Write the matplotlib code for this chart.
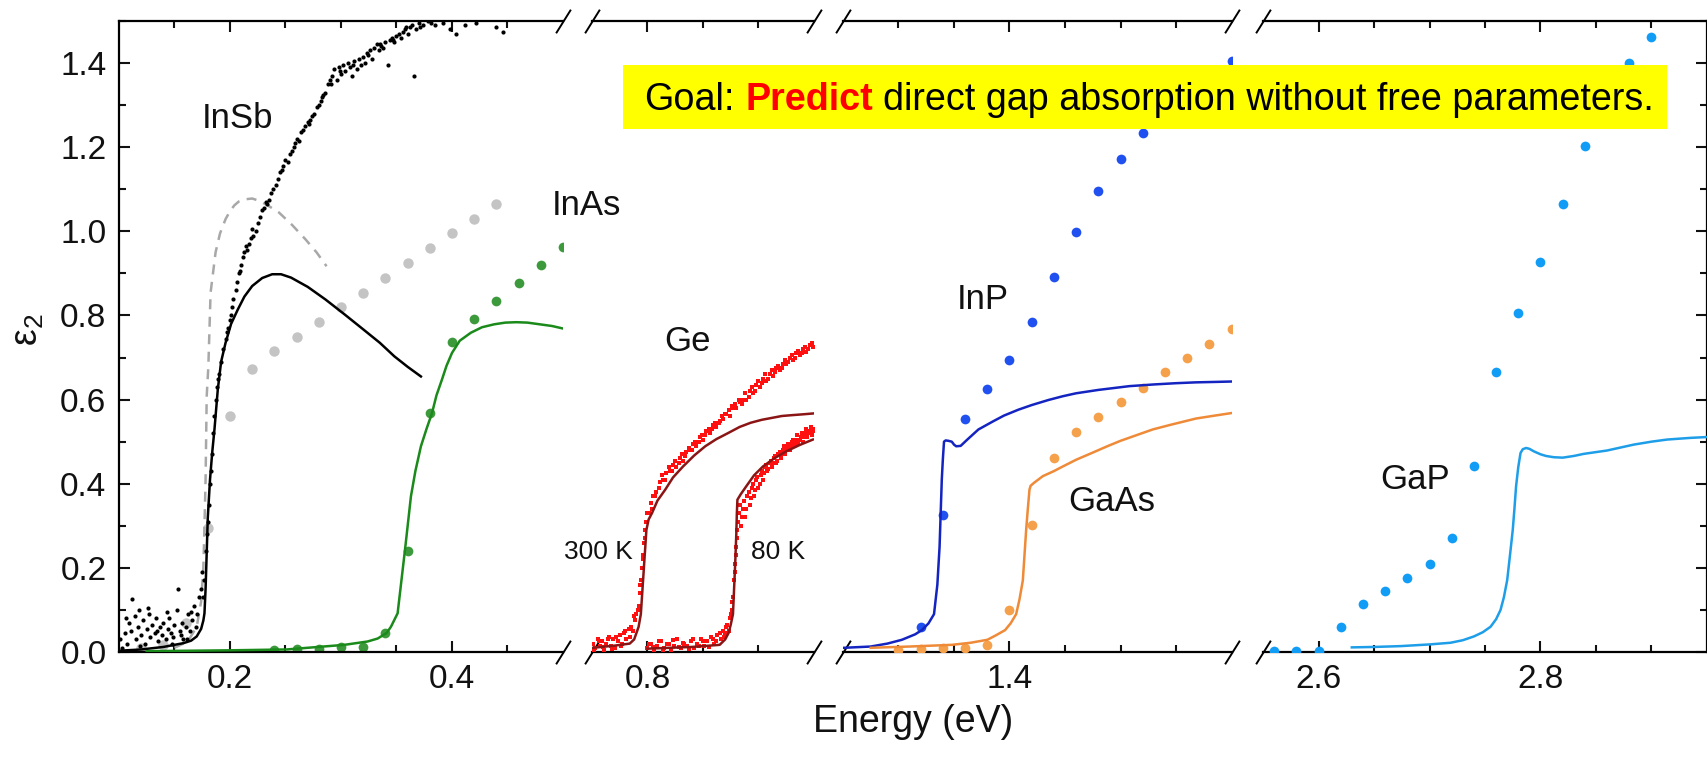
import numpy as np
import matplotlib
matplotlib.use('Agg')
import matplotlib.pyplot as plt
from matplotlib.patches import Rectangle

plt.rcParams['font.family'] = ['Liberation Sans', 'DejaVu Sans']
plt.rcParams['mathtext.fontset'] = 'custom'
plt.rcParams['mathtext.rm'] = 'Liberation Sans'
plt.rcParams['mathtext.it'] = 'Liberation Sans:italic'

# ---------------- data ----------------
# InSb experiment (black points), (energy, eps2)
insb_exp = [(0.101, 0.030), (0.103, 0.010), (0.105, 0.045), (0.107, 0.020), (0.109, 0.070),
            (0.111, 0.050), (0.112, 0.125), (0.114, 0.085), (0.115, 0.030), (0.117, 0.060),
            (0.118, 0.100), (0.120, 0.040), (0.122, 0.075), (0.123, 0.020), (0.125, 0.055),
            (0.127, 0.090), (0.128, 0.035), (0.130, 0.065), (0.132, 0.045), (0.133, 0.080),
            (0.135, 0.025), (0.137, 0.060), (0.139, 0.040), (0.140, 0.070), (0.142, 0.030),
            (0.144, 0.055), (0.145, 0.080), (0.147, 0.045), (0.149, 0.035), (0.150, 0.065),
            (0.152, 0.100), (0.153, 0.150), (0.155, 0.050), (0.157, 0.070), (0.158, 0.030),
            (0.160, 0.060), (0.162, 0.090), (0.164, 0.050), (0.166, 0.075), (0.168, 0.110),
            (0.170, 0.090), (0.172, 0.130), (0.174, 0.150), (0.175, 0.190), (0.176, 0.130),
            (0.177, 0.170), (0.178, 0.240), (0.179, 0.280), (0.180, 0.310), (0.181, 0.350),
            (0.182, 0.400), (0.183, 0.430), (0.184, 0.470), (0.185, 0.520), (0.186, 0.560),
            (0.187, 0.600), (0.188, 0.630), (0.190, 0.660), (0.192, 0.690), (0.194, 0.720),
            (0.196, 0.745), (0.198, 0.770), (0.200, 0.790), (0.202, 0.820), (0.203, 0.840),
            (0.205, 0.860), (0.206, 0.880), (0.208, 0.900), (0.210, 0.920), (0.212, 0.940),
            (0.213, 0.950), (0.215, 0.955), (0.217, 0.970), (0.219, 0.985), (0.221, 0.990),
            (0.223, 1.000), (0.225, 1.020), (0.227, 1.035), (0.229, 1.050), (0.231, 1.055),
            (0.233, 1.065), (0.235, 1.075), (0.237, 1.090), (0.239, 1.100), (0.241, 1.110),
            (0.243, 1.125), (0.245, 1.140), (0.248, 1.155), (0.250, 1.170), (0.252, 1.165),
            (0.254, 1.185), (0.256, 1.190), (0.258, 1.200), (0.260, 1.220), (0.262, 1.215),
            (0.264, 1.235), (0.266, 1.240), (0.268, 1.250), (0.270, 1.260), (0.272, 1.265),
            (0.274, 1.275), (0.276, 1.280), (0.278, 1.295), (0.280, 1.300), (0.282, 1.310),
            (0.284, 1.325), (0.286, 1.330), (0.288, 1.350), (0.290, 1.360), (0.292, 1.370),
            (0.294, 1.385), (0.296, 1.360), (0.298, 1.390), (0.300, 1.375), (0.302, 1.395),
            (0.304, 1.380), (0.306, 1.400), (0.308, 1.390), (0.310, 1.370), (0.312, 1.405),
            (0.314, 1.385), (0.316, 1.410), (0.318, 1.395), (0.320, 1.415), (0.322, 1.400),
            (0.324, 1.420), (0.326, 1.430), (0.328, 1.410), (0.330, 1.435), (0.332, 1.445),
            (0.334, 1.430), (0.336, 1.440), (0.338, 1.435), (0.340, 1.450), (0.342, 1.395),
            (0.344, 1.455), (0.346, 1.460), (0.348, 1.450), (0.350, 1.465), (0.352, 1.470),
            (0.354, 1.460), (0.356, 1.475), (0.358, 1.480), (0.360, 1.470), (0.362, 1.485),
            (0.364, 1.490), (0.366, 1.370), (0.368, 1.480), (0.370, 1.495), (0.374, 1.490),
            (0.378, 1.500), (0.385, 1.490), (0.392, 1.495), (0.398, 1.480), (0.404, 1.470),
            (0.412, 1.490), (0.422, 1.495), (0.440, 1.485), (0.446, 1.475),
            (0.106, 0.080), (0.119, 0.015), (0.126, 0.105), (0.134, 0.050), (0.143, 0.095),
            (0.148, 0.020), (0.156, 0.040), (0.161, 0.030), (0.165, 0.095), (0.169, 0.060),
            (0.189, 0.650), (0.197, 0.760), (0.201, 0.800), (0.209, 0.905), (0.214, 0.965),
            (0.220, 1.005), (0.232, 1.070), (0.247, 1.145), (0.259, 1.210), (0.271, 1.255),
            (0.283, 1.320), (0.291, 1.350), (0.299, 1.380), (0.311, 1.395), (0.323, 1.425),
            (0.335, 1.445), (0.347, 1.455), (0.359, 1.485), (0.371, 1.485), (0.381, 1.495)]

# InSb theory (solid black) and second theory (dashed grey)
insb_th_e = [0.100, 0.120, 0.140, 0.158, 0.165, 0.170, 0.174, 0.176, 0.177, 0.178,
             0.179, 0.180, 0.182, 0.184, 0.186, 0.189, 0.192, 0.196, 0.201, 0.207,
             0.213, 0.220, 0.229, 0.238, 0.246, 0.255, 0.270, 0.286, 0.303, 0.320,
             0.335, 0.348, 0.360, 0.372]
insb_th_v = [0.003, 0.006, 0.012, 0.021, 0.027, 0.037, 0.055, 0.075, 0.092, 0.150,
             0.235, 0.320, 0.410, 0.475, 0.529, 0.624, 0.690, 0.735, 0.780, 0.814,
             0.845, 0.870, 0.889, 0.898, 0.898, 0.890, 0.868, 0.838, 0.803, 0.767,
             0.735, 0.703, 0.678, 0.655]
insb_da_e = [0.150, 0.162, 0.170, 0.174, 0.176, 0.177, 0.178, 0.179, 0.1805, 0.1825,
             0.187, 0.191, 0.196, 0.200, 0.204, 0.208, 0.213, 0.220, 0.227, 0.235,
             0.244, 0.256, 0.268, 0.278, 0.287]
insb_da_v = [0.010, 0.025, 0.060, 0.120, 0.200, 0.300, 0.410, 0.607, 0.679, 0.854,
             0.950, 0.995, 1.029, 1.048, 1.062, 1.071, 1.076, 1.078, 1.072, 1.060,
             1.045, 1.015, 0.981, 0.950, 0.917]
# grey circles
grey_e = [0.12, 0.14, 0.16, 0.18, 0.20, 0.22, 0.24, 0.26, 0.28, 0.30, 0.32, 0.34,
          0.36, 0.38, 0.40, 0.42, 0.44]
grey_v = [0.010, 0.017, 0.070, 0.295, 0.562, 0.673, 0.715, 0.749, 0.784, 0.820,
          0.854, 0.890, 0.924, 0.961, 0.995, 1.030, 1.066]

# InAs
inas_th_e = [0.125, 0.200, 0.251, 0.303, 0.324, 0.333, 0.341, 0.345, 0.351, 0.354,
             0.358, 0.363, 0.367, 0.372, 0.377, 0.382, 0.386, 0.391, 0.395, 0.400,
             0.407, 0.417, 0.427, 0.438, 0.448, 0.458, 0.468, 0.479, 0.490, 0.500]
inas_th_v = [0.002, 0.004, 0.006, 0.017, 0.025, 0.032, 0.045, 0.060, 0.092, 0.160,
             0.251, 0.370, 0.430, 0.489, 0.530, 0.568, 0.610, 0.648, 0.680, 0.711,
             0.740, 0.759, 0.772, 0.779, 0.783, 0.784, 0.783, 0.779, 0.775, 0.769]
inas_e = [0.24, 0.26, 0.28, 0.30, 0.32, 0.34, 0.36, 0.38, 0.40, 0.42, 0.44, 0.46,
          0.48, 0.50]
inas_v = [0.004, 0.006, 0.008, 0.012, 0.012, 0.045, 0.240, 0.568, 0.736, 0.792,
          0.835, 0.878, 0.921, 0.963]

# Ge 300 K and 80 K experiment, (energy, eps2)
ge300_pts = [(0.751, 0.020), (0.753, 0.010), (0.755, 0.030), (0.757, 0.015), (0.759, 0.025),
             (0.761, 0.005), (0.763, 0.020), (0.765, 0.035), (0.767, 0.015), (0.769, 0.030),
             (0.771, 0.010), (0.773, 0.025), (0.775, 0.040), (0.777, 0.020), (0.779, 0.045),
             (0.781, 0.030), (0.783, 0.055), (0.785, 0.060), (0.787, 0.050), (0.789, 0.075),
             (0.790, 0.090), (0.792, 0.110), (0.793, 0.140), (0.794, 0.170), (0.795, 0.200),
             (0.796, 0.230), (0.797, 0.260), (0.798, 0.290), (0.799, 0.310), (0.801, 0.330),
             (0.803, 0.355), (0.805, 0.370), (0.808, 0.380), (0.811, 0.405), (0.814, 0.410),
             (0.817, 0.425), (0.820, 0.430), (0.823, 0.445), (0.826, 0.440), (0.829, 0.460),
             (0.832, 0.455), (0.835, 0.475), (0.838, 0.480), (0.841, 0.495), (0.844, 0.490),
             (0.847, 0.510), (0.850, 0.505), (0.853, 0.525), (0.856, 0.520), (0.859, 0.540),
             (0.862, 0.535), (0.865, 0.550), (0.868, 0.555), (0.871, 0.565), (0.874, 0.560),
             (0.877, 0.580), (0.880, 0.580), (0.883, 0.595), (0.886, 0.600), (0.889, 0.600),
             (0.892, 0.620), (0.895, 0.615), (0.898, 0.635), (0.901, 0.630), (0.904, 0.650),
             (0.907, 0.645), (0.910, 0.660), (0.913, 0.655), (0.916, 0.675), (0.919, 0.670),
             (0.922, 0.685), (0.925, 0.685), (0.928, 0.700), (0.931, 0.695), (0.934, 0.710),
             (0.937, 0.705), (0.940, 0.720), (0.943, 0.712), (0.946, 0.730), (0.949, 0.725),
             (0.752, 0.005), (0.756, 0.025), (0.760, 0.012), (0.764, 0.030), (0.768, 0.008),
             (0.772, 0.035), (0.776, 0.015), (0.780, 0.050), (0.784, 0.035), (0.788, 0.085),
             (0.791, 0.100), (0.7935, 0.160), (0.7955, 0.220), (0.7975, 0.270), (0.800, 0.330),
             (0.804, 0.340), (0.807, 0.370), (0.810, 0.390), (0.813, 0.420), (0.816, 0.410),
             (0.819, 0.440), (0.822, 0.430), (0.825, 0.455), (0.828, 0.450), (0.831, 0.470),
             (0.834, 0.465), (0.837, 0.485), (0.840, 0.480), (0.843, 0.500), (0.846, 0.500),
             (0.849, 0.515), (0.852, 0.515), (0.855, 0.530), (0.858, 0.530), (0.861, 0.545),
             (0.864, 0.545), (0.867, 0.560), (0.870, 0.565), (0.873, 0.575), (0.876, 0.585),
             (0.879, 0.590), (0.882, 0.600), (0.885, 0.590), (0.888, 0.615), (0.891, 0.605),
             (0.894, 0.630), (0.897, 0.620), (0.900, 0.645), (0.903, 0.640), (0.906, 0.660),
             (0.909, 0.650), (0.912, 0.670), (0.915, 0.665), (0.918, 0.680), (0.921, 0.675),
             (0.924, 0.695), (0.927, 0.690), (0.930, 0.705), (0.933, 0.700), (0.936, 0.715),
             (0.939, 0.710), (0.942, 0.725), (0.945, 0.720), (0.948, 0.735)]
ge80_pts = [(0.800, 0.010), (0.803, 0.020), (0.806, 0.005), (0.809, 0.015), (0.812, 0.025),
            (0.815, 0.010), (0.818, 0.020), (0.821, 0.005), (0.824, 0.015), (0.827, 0.030),
            (0.830, 0.010), (0.833, 0.020), (0.836, 0.015), (0.839, 0.025), (0.842, 0.010),
            (0.845, 0.020), (0.848, 0.030), (0.851, 0.015), (0.854, 0.025), (0.857, 0.035),
            (0.860, 0.020), (0.863, 0.040), (0.866, 0.030), (0.868, 0.050), (0.870, 0.045),
            (0.872, 0.065), (0.874, 0.080), (0.876, 0.100), (0.877, 0.130), (0.878, 0.170),
            (0.879, 0.210), (0.880, 0.250), (0.881, 0.290), (0.882, 0.330), (0.884, 0.300),
            (0.886, 0.340), (0.888, 0.320), (0.890, 0.370), (0.892, 0.350), (0.894, 0.390),
            (0.896, 0.370), (0.898, 0.410), (0.900, 0.390), (0.902, 0.420), (0.904, 0.410),
            (0.906, 0.440), (0.908, 0.430), (0.910, 0.450), (0.912, 0.440), (0.914, 0.460),
            (0.916, 0.450), (0.918, 0.470), (0.920, 0.460), (0.922, 0.480), (0.924, 0.470),
            (0.926, 0.485), (0.928, 0.480), (0.930, 0.500), (0.932, 0.490), (0.934, 0.505),
            (0.936, 0.495), (0.938, 0.510), (0.940, 0.500), (0.942, 0.520), (0.944, 0.510),
            (0.946, 0.525), (0.948, 0.515), (0.950, 0.530),
            (0.801, 0.020), (0.805, 0.012), (0.810, 0.025), (0.814, 0.005), (0.819, 0.018),
            (0.823, 0.028), (0.828, 0.012), (0.832, 0.022), (0.837, 0.008), (0.841, 0.030),
            (0.846, 0.015), (0.850, 0.025), (0.855, 0.012), (0.859, 0.030), (0.862, 0.025),
            (0.865, 0.045), (0.869, 0.035), (0.871, 0.060), (0.873, 0.050), (0.875, 0.090),
            (0.8765, 0.120), (0.8785, 0.190), (0.8795, 0.230), (0.8805, 0.270), (0.8815, 0.310),
            (0.883, 0.350), (0.885, 0.320), (0.887, 0.360), (0.889, 0.340), (0.891, 0.380),
            (0.893, 0.365), (0.895, 0.400), (0.897, 0.385), (0.899, 0.415), (0.901, 0.400),
            (0.903, 0.430), (0.905, 0.425), (0.907, 0.445), (0.909, 0.435), (0.911, 0.455),
            (0.913, 0.450), (0.915, 0.465), (0.917, 0.455), (0.919, 0.475), (0.921, 0.470),
            (0.923, 0.490), (0.925, 0.480), (0.927, 0.495), (0.929, 0.490), (0.931, 0.505),
            (0.933, 0.500), (0.935, 0.515), (0.937, 0.505), (0.939, 0.520), (0.941, 0.510),
            (0.943, 0.530), (0.945, 0.520), (0.947, 0.535), (0.949, 0.525)]
ge300_th_e = [0.751, 0.770, 0.784, 0.788, 0.790, 0.792, 0.794, 0.7955, 0.797, 0.798,
              0.799, 0.801, 0.804, 0.809, 0.816, 0.823, 0.832, 0.842, 0.852, 0.862,
              0.873, 0.883, 0.893, 0.903, 0.913, 0.921, 0.930, 0.940, 0.949]
ge300_th_v = [0.010, 0.015, 0.020, 0.030, 0.045, 0.060, 0.090, 0.150, 0.210, 0.250,
              0.290, 0.315, 0.330, 0.360, 0.386, 0.415, 0.441, 0.467, 0.489, 0.506,
              0.521, 0.535, 0.545, 0.552, 0.557, 0.561, 0.563, 0.565, 0.567]
ge80_th_e = [0.800, 0.840, 0.865, 0.870, 0.873, 0.875, 0.877, 0.878, 0.879, 0.880,
             0.8805, 0.881, 0.884, 0.889, 0.896, 0.904, 0.914, 0.925, 0.937, 0.949]
ge80_th_v = [0.008, 0.012, 0.017, 0.030, 0.045, 0.065, 0.090, 0.150, 0.210, 0.280,
             0.330, 0.362, 0.375, 0.394, 0.420, 0.441, 0.460, 0.477, 0.492, 0.505]

# InP
inp_th_e = [1.251, 1.275, 1.290, 1.303, 1.315, 1.321, 1.327, 1.332, 1.335, 1.337,
            1.338, 1.339, 1.340, 1.341, 1.3425, 1.345, 1.348, 1.350, 1.352, 1.356,
            1.362, 1.372, 1.385, 1.395, 1.408, 1.420, 1.435, 1.448, 1.460, 1.480,
            1.508, 1.530, 1.550, 1.568, 1.585, 1.600]
inp_th_v = [0.010, 0.013, 0.020, 0.029, 0.042, 0.052, 0.068, 0.090, 0.160, 0.250,
            0.330, 0.410, 0.460, 0.500, 0.503, 0.502, 0.500, 0.493, 0.489, 0.490,
            0.505, 0.529, 0.548, 0.562, 0.576, 0.587, 0.599, 0.608, 0.615, 0.623,
            0.632, 0.636, 0.639, 0.641, 0.642, 0.643]
inp_e = [1.32, 1.34, 1.36, 1.38, 1.40, 1.42, 1.44, 1.46, 1.48, 1.50, 1.52, 1.54,
         1.56, 1.58, 1.60]
inp_v = [0.060, 0.326, 0.555, 0.626, 0.693, 0.784, 0.891, 0.999, 1.097, 1.173,
         1.233, 1.280, 1.325, 1.365, 1.405]

# GaAs
gaas_th_e = [1.275, 1.310, 1.348, 1.365, 1.380, 1.388, 1.396, 1.401, 1.406, 1.409,
             1.412, 1.4135, 1.415, 1.4165, 1.418, 1.419, 1.422, 1.430, 1.440, 1.448,
             1.460, 1.475, 1.488, 1.500, 1.515, 1.529, 1.545, 1.568, 1.585, 1.600]
gaas_th_v = [0.010, 0.013, 0.017, 0.022, 0.029, 0.040, 0.052, 0.068, 0.090, 0.125,
             0.170, 0.230, 0.290, 0.340, 0.386, 0.395, 0.402, 0.418, 0.430, 0.441,
             0.457, 0.474, 0.489, 0.502, 0.516, 0.529, 0.540, 0.555, 0.562, 0.568]
gaas_e = [1.30, 1.32, 1.34, 1.36, 1.38, 1.40, 1.42, 1.44, 1.46, 1.48, 1.50, 1.52,
          1.54, 1.56, 1.58, 1.60]
gaas_v = [0.004, 0.006, 0.010, 0.010, 0.017, 0.100, 0.302, 0.460, 0.522, 0.558,
          0.594, 0.628, 0.665, 0.700, 0.733, 0.767]

# GaP
gap_th_e = [2.630, 2.650, 2.674, 2.700, 2.719, 2.730, 2.740, 2.748, 2.755, 2.760,
            2.764, 2.767, 2.770, 2.7725, 2.775, 2.7765, 2.778, 2.780, 2.782, 2.784,
            2.787, 2.790, 2.794, 2.800, 2.805, 2.812, 2.820, 2.830, 2.839, 2.860,
            2.884, 2.900, 2.914, 2.935, 2.950]
gap_th_v = [0.011, 0.012, 0.014, 0.018, 0.022, 0.028, 0.037, 0.047, 0.060, 0.078,
            0.100, 0.130, 0.171, 0.230, 0.290, 0.340, 0.394, 0.440, 0.473, 0.482,
            0.485, 0.483, 0.477, 0.470, 0.466, 0.463, 0.462, 0.466, 0.471, 0.479,
            0.493, 0.500, 0.505, 0.509, 0.511]
gap_e = [2.56, 2.58, 2.60, 2.62, 2.64, 2.66, 2.68, 2.70, 2.72, 2.74, 2.76, 2.78,
         2.80, 2.82, 2.84, 2.86, 2.88, 2.90]
gap_v = [0.003, 0.003, 0.003, 0.059, 0.113, 0.145, 0.177, 0.209, 0.270, 0.443,
         0.665, 0.806, 0.927, 1.064, 1.203, 1.300, 1.401, 1.463]

# axis segments: (low, high)
seg_lims = [(0.1, 0.5), (0.75, 0.95), (1.25, 1.6), (2.55, 2.95)]
seg_major = [[0.2, 0.4], [0.8], [1.4], [2.6, 2.8]]
seg_minor = [[0.15, 0.25, 0.3, 0.35, 0.45], [0.85, 0.9],
             [1.3, 1.35, 1.45, 1.5, 1.55], [2.65, 2.7, 2.75, 2.85, 2.9]]
y_major = [0.0, 0.2, 0.4, 0.6, 0.8, 1.0, 1.2, 1.4]
y_minor = [0.1, 0.3, 0.5, 0.7, 0.9, 1.1, 1.3, 1.5]

insb_exp = np.array(insb_exp)
ge300_pts = np.array(ge300_pts)
ge80_pts = np.array(ge80_pts)

# ---------------- figure ----------------
W, H = 1708, 757
fig = plt.figure(figsize=(W / 100, H / 100), dpi=100)
PX = 1110.0            # pixels per eV
y_bot, y_top = 652, 21
seg_x0 = [119, 592, 843, 1263]

axs = []
for i, ((lo, hi), x0) in enumerate(zip(seg_lims, seg_x0)):
    ax = fig.add_axes([x0 / W, (H - y_bot) / H, (hi - lo) * PX / W, (y_bot - y_top) / H])
    ax.patch.set_visible(False)
    ax.set_xlim(lo, hi)
    ax.set_ylim(0, 1.5)
    ax.set_xticks(seg_major[i])
    ax.set_xticks(seg_minor[i], minor=True)
    ax.set_xticklabels(['%.1f' % t for t in seg_major[i]])
    ax.set_yticks(y_major)
    ax.set_yticks(y_minor, minor=True)
    ax.set_yticklabels(['%.1f' % t for t in y_major])
    for s in ax.spines.values():
        s.set_linewidth(1.6)
    ax.tick_params(which='both', direction='in', top=True, bottom=True,
                   left=(i == 0), right=(i == 3), labelleft=(i == 0),
                   labelright=False, width=1.5, labelsize=24, pad=9,
                   colors='#111111')
    ax.tick_params(which='major', length=8)
    ax.tick_params(which='minor', length=5)
    if i > 0:
        ax.spines['left'].set_visible(False)
    if i < 3:
        ax.spines['right'].set_visible(False)
    axs.append(ax)

ax1, ax2, ax3, ax4 = axs

# break marks
slash = [(-1, -1.6), (1, 1.6)]
for i, ax in enumerate(axs):
    sides = []
    if i > 0:
        sides.append(0)
    if i < 3:
        sides.append(1)
    for xs in sides:
        ax.plot([xs, xs], [0, 1], transform=ax.transAxes, marker=slash,
                markersize=17, linestyle='none', color='k', mew=1.4, clip_on=False)

# InSb
ax1.plot(grey_e, grey_v, 'o', color='#c4c4c4', ms=7.5, mew=0, zorder=2)
ax1.plot(insb_da_e, insb_da_v, '--', color='#a8a8a8', lw=1.8, dashes=(4, 3), zorder=3)
ax1.plot(insb_exp[:, 0], insb_exp[:, 1], 'o', color='k', ms=3, mew=0, zorder=4)
ax1.plot(insb_th_e, insb_th_v, '-', color='k', lw=1.8, zorder=5)
# InAs
ax1.plot(inas_e, inas_v, 'o', color='#3c9a3c', ms=7, mew=0, zorder=2)
ax1.plot(inas_th_e, inas_th_v, '-', color='#1a8a1a', lw=1.8, zorder=5)

# Ge
ax2.plot(ge300_pts[:, 0], ge300_pts[:, 1], 's', color='#ff1010', ms=2.4, mew=0, zorder=3)
ax2.plot(ge80_pts[:, 0], ge80_pts[:, 1], 's', color='#ff1010', ms=2.4, mew=0, zorder=3)
ax2.plot(ge300_th_e, ge300_th_v, '-', color='#8b1515', lw=1.8, zorder=4)
ax2.plot(ge80_th_e, ge80_th_v, '-', color='#8b1515', lw=1.8, zorder=4)

# InP and GaAs
ax3.plot(inp_e, inp_v, 'o', color='#2050f0', ms=7, mew=0, zorder=3)
ax3.plot(inp_th_e, inp_th_v, '-', color='#1424c0', lw=1.8, zorder=4)
ax3.plot(gaas_e, gaas_v, 'o', color='#f5a04a', ms=7, mew=0, zorder=3)
ax3.plot(gaas_th_e, gaas_th_v, '-', color='#ee8a38', lw=1.8, zorder=4)

# GaP
ax4.plot(gap_e, gap_v, 'o', color='#119cf5', ms=7, mew=0, zorder=3)
ax4.plot(gap_th_e, gap_th_v, '-', color='#1e9ee8', lw=1.8, zorder=4)

# labels
lab = dict(fontsize=25, ha='center', va='center', color='#111111')
ax1.text(0.207, 1.268, 'InSb', **lab)
ax1.text(0.521, 1.062, 'InAs', **lab)
ax2.text(0.8356, 0.738, 'Ge', **lab)
ax2.text(0.756, 0.238, '300 K', fontsize=19, ha='center', va='center', color='#111111')
ax2.text(0.9176, 0.238, '80 K', fontsize=19, ha='center', va='center', color='#111111')
ax3.text(1.3757, 0.838, 'InP', **lab)
ax3.text(1.4923, 0.357, 'GaAs', **lab)
ax4.text(2.687, 0.41, 'GaP', **lab)

fig.text(913 / W, 1 - 722 / H, 'Energy (eV)', fontsize=27, ha='center', va='center',
         color='#111111')
fig.text(28 / W, 1 - 330 / H, 'ε$_2$', fontsize=27, rotation=90, ha='center',
         va='center', color='#111111')

# goal box
fig.add_artist(Rectangle((623 / W, 1 - 129 / H), (1667 - 623) / W, 64 / H,
                         transform=fig.transFigure, facecolor='#ffff00',
                         edgecolor='none', zorder=10))
fig.canvas.draw()
rend = fig.canvas.get_renderer()
fs = 27.2
space = 0.278 * fs * 100 / 72
xpos = 644.0
pieces = [('Goal:', {}), ('Predict', {'color': '#ff0000', 'fontweight': 'bold'}),
          ('direct gap absorption without free parameters.', {})]
for s, kw in pieces:
    t = fig.text(xpos / W, 1 - 110 / H, s, fontsize=fs, ha='left', va='baseline',
                 zorder=11, **kw)
    bb = t.get_window_extent(renderer=rend)
    xpos = bb.x1 + space

fig.savefig('out.png', dpi=100)
